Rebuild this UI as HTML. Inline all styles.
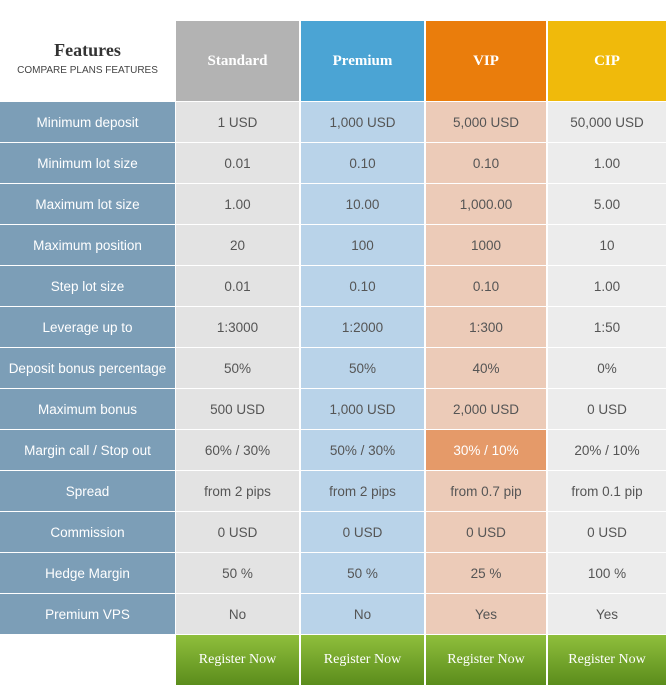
<!DOCTYPE html><html><head><style>
body{margin:0;width:666px;height:688px;background:#fff;position:relative;font-family:"Liberation Sans",sans-serif;overflow:hidden}
div{position:absolute;box-sizing:border-box;text-align:center}
.c{display:flex;align-items:center;justify-content:center;font-size:13.5px;color:#555;padding-top:1px}
.h{font-family:"Liberation Serif",serif;font-weight:bold;color:#fff;font-size:15px;top:21px;height:80px;display:flex;align-items:center;justify-content:center}
.b{font-family:"Liberation Serif",serif;color:#fff;font-size:14px;top:635px;height:50px;display:flex;align-items:center;justify-content:center;background:linear-gradient(#8fbf3c,#5b8d1c)}
</style></head><body>
<div style="left:0;top:40px;width:175px;font-family:'Liberation Serif',serif;font-weight:bold;font-size:18px;color:#333">Features</div>
<div style="left:0;top:65px;width:175px;font-size:10px;color:#444">COMPARE PLANS FEATURES</div>
<div class="h" style="left:176px;width:123px;background:#b3b3b3">Standard</div>
<div class="h" style="left:301px;width:123px;background:#4ba4d4">Premium</div>
<div class="h" style="left:426px;width:120px;background:#ea7d0c">VIP</div>
<div class="h" style="left:548px;width:118px;background:#f0ba0b">CIP</div>
<div id="rows"></div>
<div class="b" style="left:176px;width:123px">Register Now</div>
<div class="b" style="left:301px;width:123px">Register Now</div>
<div class="b" style="left:426px;width:120px">Register Now</div>
<div class="b" style="left:548px;width:118px">Register Now</div>
<script>
var d=[["Minimum deposit","1 USD","1,000 USD","5,000 USD","50,000 USD"],["Minimum lot size","0.01","0.10","0.10","1.00"],["Maximum lot size","1.00","10.00","1,000.00","5.00"],["Maximum position","20","100","1000","10"],["Step lot size","0.01","0.10","0.10","1.00"],["Leverage up to","1:3000","1:2000","1:300","1:50"],["Deposit bonus percentage","50%","50%","40%","0%"],["Maximum bonus","500 USD","1,000 USD","2,000 USD","0 USD"],["Margin call / Stop out","60% / 30%","50% / 30%","30% / 10%","20% / 10%"],["Spread","from 2 pips","from 2 pips","from 0.7 pip","from 0.1 pip"],["Commission","0 USD","0 USD","0 USD","0 USD"],["Hedge Margin","50 %","50 %","25 %","100 %"],["Premium VPS","No","No","Yes","Yes"]];
var L=[0,176,301,426,548],W=[175,123,123,120,118],B=["#7c9eb7","#e3e3e3","#b9d3e9","#eccbb8","#ececec"],h="";
d.forEach(function(r,i){r.forEach(function(t,j){var bg=B[j],col=j?"#555":"#fff";if(i==8&&j==3){bg="#e59a69";col="#fff"}
h+='<div class="c" style="left:'+L[j]+'px;width:'+W[j]+'px;top:'+(102+i*41)+'px;height:40px;background:'+bg+';color:'+col+'">'+t+'</div>'})});
document.getElementById("rows").outerHTML=h;
</script></body></html>
